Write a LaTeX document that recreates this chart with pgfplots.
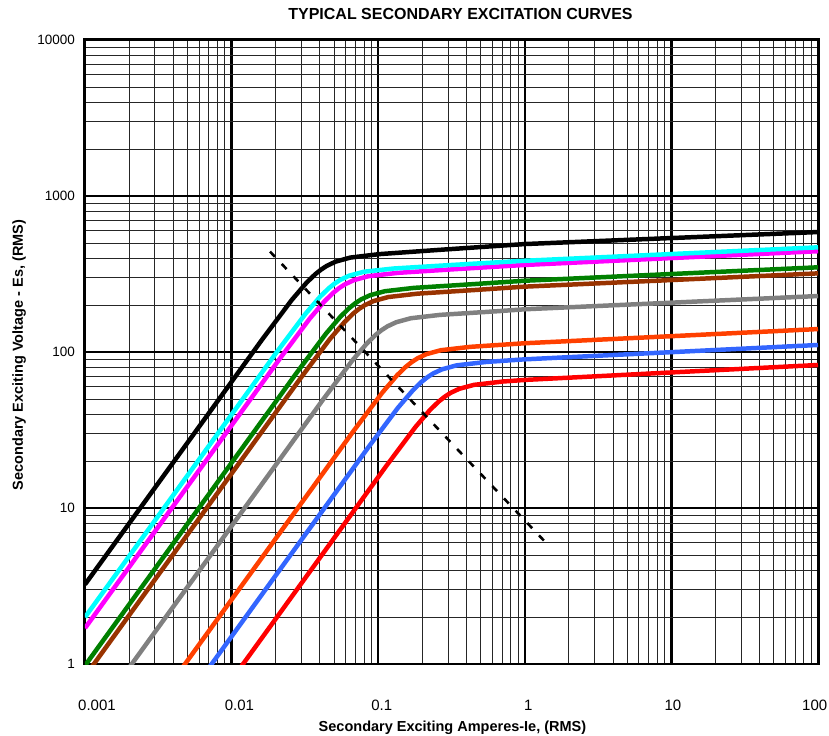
\documentclass[border=0pt]{standalone}
\usepackage{pgfplots}
\pgfplotsset{compat=1.18}
\usepackage{fontspec}
\setmainfont{Liberation Sans}
\definecolor{ccyan}{RGB}{0,255,255}
\definecolor{cmag}{RGB}{255,0,255}
\definecolor{cgreen}{RGB}{0,128,0}
\definecolor{cbrown}{RGB}{153,51,0}
\definecolor{cgray}{RGB}{128,128,128}
\definecolor{corange}{RGB}{255,64,0}
\definecolor{cblue}{RGB}{51,102,255}
\definecolor{cred}{RGB}{255,0,0}
\begin{document}
\begin{tikzpicture}
\path[use as bounding box] (-85bp,-72bp) rectangle (744bp,664bp);
\begin{axis}[
  at={(0,0)}, anchor=south west,
  scale only axis, width=733bp, height=624bp,
  xmode=log, ymode=log,
  xmin=0.001, xmax=100, ymin=1, ymax=10000,
  xtick={0.001,0.01,0.1,1,10,100},
  xticklabels={0.001,0.01,0.1,\hspace*{6bp}1,10,\hspace*{-9bp}100},
  ytick={1,10,100,1000,10000},
  yticklabels={1,10,100,1000,10000},
  minor xtick={0.002,0.003,0.004,0.005,0.006,0.007,0.008,0.009,0.02,0.03,0.04,0.05,0.06,0.07,0.08,0.09,0.2,0.3,0.4,0.5,0.6,0.7,0.8,0.9,2,3,4,5,6,7,8,9,20,30,40,50,60,70,80,90},
  minor ytick={2,3,4,5,6,7,8,9,20,30,40,50,60,70,80,90,200,300,400,500,600,700,800,900,2000,3000,4000,5000,6000,7000,8000,9000},
  grid=both,
  major grid style={line width=2.6pt, black},
  minor grid style={line width=0.9pt, black!85},
  axis line style={line width=3pt},
  major tick length=0pt, minor tick length=0pt,
  tick style={draw=none},
  /pgf/number format/assume math mode=true,
  xticklabel style={font=\fontsize{15bp}{18bp}\selectfont, anchor=north west, inner sep=0pt, xshift=-7bp, yshift=-36bp},
  yticklabel style={font=\fontsize{13.5bp}{16bp}\selectfont, anchor=east, inner sep=0pt, xshift=-10bp},
  every axis plot/.append style={line width=4.5pt, line join=round},
]
\addplot[cred] coordinates {(0.001,0.0397) (0.113,18.49) (0.1791,32.96) (0.2254,42.46) (0.2588,48.16) (0.2838,51.61) (0.3112,54.67) (0.3573,58.08) (0.4498,61.56) (0.7129,64.71) (1,66.22) (10,73.96) (100,82.56)};
\addplot[cblue] coordinates {(0.001,0.0753) (0.0861,24.65) (0.1365,43.95) (0.1718,56.60) (0.1972,64.27) (0.2163,68.87) (0.2371,72.84) (0.2721,77.40) (0.3428,82.13) (0.5433,86.30) (1,89.75) (10,99.77) (100,110.9)};
\addplot[corange] coordinates {(0.001,0.1297) (0.0673,30.83) (0.1067,54.95) (0.1343,70.79) (0.1542,80.35) (0.1691,86.10) (0.1854,91.08) (0.2128,96.83) (0.2678,102.7) (0.4246,107.9) (1,113.8) (10,126.3) (100,140.3)};
\addplot[cgray] coordinates {(0.001,0.3846) (0.04198,49.43) (0.06651,88.09) (0.08375,113.5) (0.09616,128.8) (0.1054,138.0) (0.1156,146.0) (0.1327,155.2) (0.1671,164.6) (0.2648,173.0) (0.6651,182.8) (1,187.9) (10,207.1) (100,228.4)};
\addplot[cbrown] coordinates {(0.001,0.834) (0.02944,67.6) (0.04664,120.5) (0.05875,155.1) (0.0674,176.1) (0.07395,188.8) (0.08109,199.7) (0.0931,212.2) (0.1172,225.1) (0.1857,236.6) (0.4664,250.0) (1,262.4) (10,289.2) (100,319.2)};
\addplot[cgreen] coordinates {(0.001,0.977) (0.02779,73.6) (0.04405,131.2) (0.05546,169.1) (0.06367,191.8) (0.06982,205.5) (0.07654,217.5) (0.08789,231.0) (0.1107,245.1) (0.1753,257.6) (0.4405,272.1) (1,286.3) (10,316.2) (100,349.1)};
\addplot[cmag] coordinates {(0.001,1.698) (0.02158,92.0) (0.0342,164.1) (0.04306,211.4) (0.04943,239.9) (0.0542,257.0) (0.05942,271.8) (0.06822,288.8) (0.0859,306.2) (0.136,321.6) (0.342,340.0) (1,361.4) (10,400.0) (100,442.6)};
\addplot[ccyan] coordinates {(0.001,1.995) (0.02009,98.4) (0.03185,175.3) (0.04009,225.9) (0.04602,256.4) (0.05047,274.8) (0.05533,290.6) (0.06353,308.7) (0.08,327.0) (0.1268,342.8) (0.3185,361.4) (1,384.6) (10,424.6) (100,468.8)};
\addplot[black] coordinates {(0.001,3.236) (0.01622,120.8) (0.0257,215.3) (0.03236,277.3) (0.03715,314.8) (0.04073,337.3) (0.04467,356.9) (0.05127,379.7) (0.06457,403.0) (0.1023,424.2) (0.257,451.1) (1,492.0) (10,537.6) (100,587.4)};
\addplot[black, line width=2.6pt, dash pattern=on 7bp off 10bp] coordinates {(0.0183,440) (1.44,5.8)};
\end{axis}
\node[font=\bfseries\fontsize{16bp}{19bp}\selectfont, anchor=base] at (375.5bp,644bp) {TYPICAL SECONDARY EXCITATION CURVES};
\node[font=\bfseries\fontsize{14.5bp}{17bp}\selectfont, anchor=base] at (367.5bp,-67bp) {Secondary Exciting Amperes-Ie, (RMS)};
\node[font=\bfseries\fontsize{14.5bp}{17bp}\selectfont, rotate=90, anchor=base] at (-62bp,309bp) {Secondary Exciting Voltage - Es, (RMS)};
\end{tikzpicture}
\end{document}
